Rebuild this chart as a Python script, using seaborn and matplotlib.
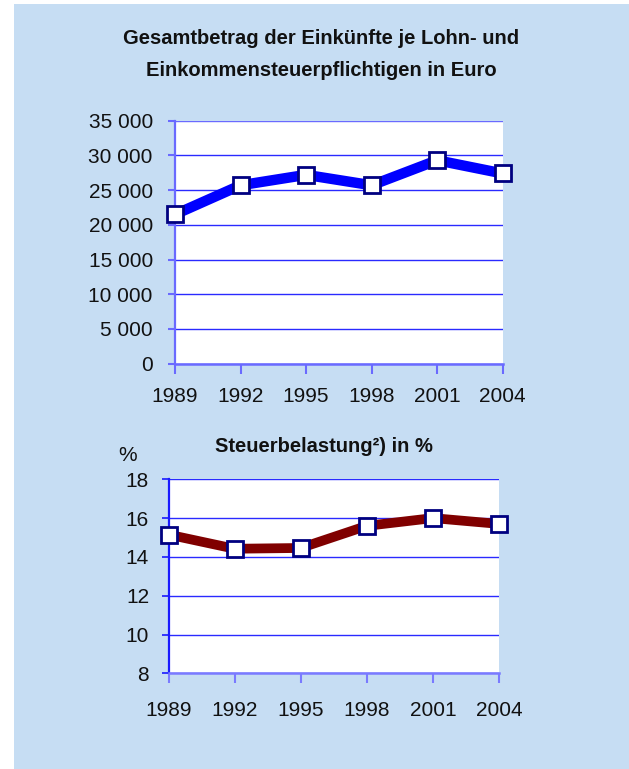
import matplotlib
matplotlib.use("Agg")
import matplotlib.pyplot as plt
import seaborn as sns
import pandas as pd
from matplotlib import font_manager
from matplotlib.ticker import FuncFormatter, FixedLocator

years = [1989, 1992, 1995, 1998, 2001, 2004]
einkuenfte = [21500, 25700, 27200, 25700, 29300, 27400]
belastung = [15.15, 14.42, 14.46, 15.6, 16.0, 15.7]

title_top_1 = "Gesamtbetrag der Einkünfte je Lohn- und"
title_top_2 = "Einkommensteuerpflichtigen in Euro"
title_bottom = "Steuerbelastung²) in %"
unit_bottom = "%"

sns.set_theme(style="white")
names = {f.name for f in font_manager.fontManager.ttflist}
fam = ["Liberation Sans Narrow", "Liberation Sans", "DejaVu Sans"]
fam = [f for f in fam if f in names] or ["DejaVu Sans"]
plt.rcParams["font.family"] = fam

W, H = 629, 769
fig = plt.figure(figsize=(W / 100, H / 100), dpi=100)
fig.patch.set_facecolor("white")
bg = "#c6ddf3"
fig.patches.append(plt.Rectangle((14 / W, 0), 1 - 14 / W, 1 - 4 / H,
                                 transform=fig.transFigure, facecolor=bg,
                                 edgecolor="none", zorder=-10))

def px_axes(l, t, r, b):
    ax = fig.add_axes([l / W, 1 - b / H, (r - l) / W, (b - t) / H])
    ax.set_zorder(5)
    return ax

def style(ax, spine_left, spine_bottom, gridcol):
    ax.set_facecolor("white")
    for s in ["top", "right"]:
        ax.spines[s].set_visible(False)
    ax.spines["left"].set_color(spine_left)
    ax.spines["left"].set_linewidth(1.6)
    ax.spines["bottom"].set_color(spine_bottom)
    ax.spines["bottom"].set_linewidth(1.8)
    ax.yaxis.grid(True, color=gridcol, linewidth=1.0)
    ax.xaxis.grid(False)
    ax.set_axisbelow(True)
    ax.set_xlabel("")
    ax.set_ylabel("")
    ax.tick_params(axis="both", which="both", direction="out",
                   left=True, bottom=True, labelsize=15, labelcolor="#111111")

# Top chart
ax1 = px_axes(175, 120.7, 502.7, 363.7)
df1 = pd.DataFrame({"Jahr": years, "Wert": einkuenfte})
sns.lineplot(data=df1, x="Jahr", y="Wert", ax=ax1, color="#0000ff", linewidth=7.5,
             marker="s", markersize=11, markerfacecolor="white",
             markeredgecolor="#000080", markeredgewidth=2.0, clip_on=False, zorder=5)
ax1.set_xlim(years[0], years[-1])
ax1.set_ylim(0, 35000)
ax1.yaxis.set_major_locator(FixedLocator(list(range(0, 35001, 5000))))
ax1.yaxis.set_major_formatter(FuncFormatter(lambda v, p: f"{int(v):,}".replace(",", " ")))
ax1.set_xticks(years)
ax1.set_xticklabels([str(y) for y in years])
style(ax1, "#6a6aff", "#6a6aff", "#2a2aff")
ax1.tick_params(axis="y", length=5, width=1.5, color="#6a6aff", pad=11)
ax1.tick_params(axis="x", length=7, width=1.5, color="#6a6aff", pad=10)
for gl, v in zip(ax1.get_ygridlines(), range(0, 35001, 5000)):
    if v == 35000:
        gl.set_color("#6a6aff")

fig.text(321 / W, 1 - 39 / H, title_top_1, ha="center", va="center",
         fontsize=14.5, fontweight="bold", color="#111111")
fig.text(321 / W, 1 - 70 / H, title_top_2, ha="center", va="center",
         fontsize=14.5, fontweight="bold", color="#111111")

# Bottom chart
ax2 = px_axes(168.5, 479.3, 499, 673.3)
df2 = pd.DataFrame({"Jahr": years, "Wert": belastung})
sns.lineplot(data=df2, x="Jahr", y="Wert", ax=ax2, color="#800000", linewidth=7,
             marker="s", markersize=11, markerfacecolor="white",
             markeredgecolor="#000080", markeredgewidth=2.0, clip_on=False, zorder=5)
ax2.set_xlim(years[0], years[-1])
ax2.set_ylim(8, 18)
ax2.set_yticks([8, 10, 12, 14, 16, 18])
ax2.set_yticklabels(["8", "10", "12", "14", "16", "18"])
ax2.set_xticks(years)
ax2.set_xticklabels([str(y) for y in years])
style(ax2, "#1a1aff", "#7a7aff", "#2a2aff")
ax2.tick_params(axis="y", length=5, width=1.2, color="#1a1aff", pad=9)
ax2.tick_params(axis="x", length=7, width=1.5, color="#7a7aff", pad=13)

fig.text(324 / W, 1 - 447 / H, title_bottom, ha="center", va="center",
         fontsize=14.5, fontweight="bold", color="#111111")
fig.text(128 / W, 1 - 455 / H, unit_bottom, ha="center", va="center",
         fontsize=15, color="#111111")

fig.savefig("out.png", dpi=100, facecolor=fig.get_facecolor())
